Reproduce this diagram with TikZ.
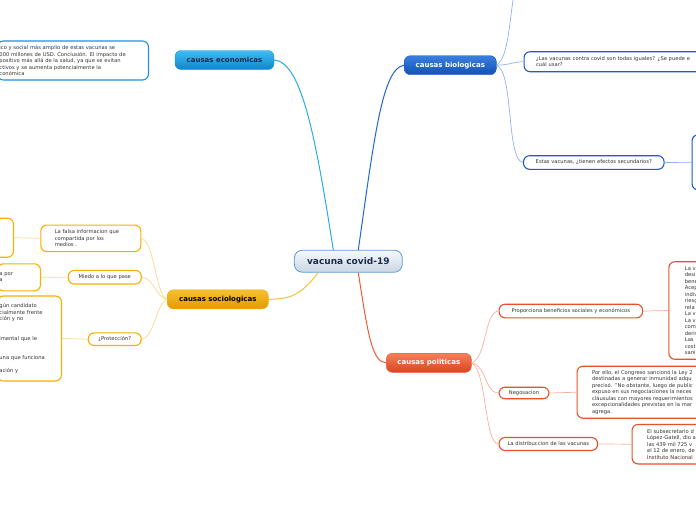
\documentclass[tikz,border=0pt]{standalone}
\usepackage{fontspec}
\setmainfont{DejaVu Sans}
\definecolor{econA}{HTML}{3DBDF2}
\definecolor{econB}{HTML}{0E86CC}
\definecolor{econL}{HTML}{2AAAE6}
\definecolor{econD}{HTML}{1E8FE4}
\definecolor{bioA}{HTML}{3A7FE0}
\definecolor{bioB}{HTML}{1450B4}
\definecolor{bioL}{HTML}{1F66D6}
\definecolor{bioS}{HTML}{8DB4EC}
\definecolor{bioD}{HTML}{1A5AD2}
\definecolor{socA}{HTML}{F8C030}
\definecolor{socB}{HTML}{E09A00}
\definecolor{socL}{HTML}{F8C13A}
\definecolor{socS}{HTML}{FCD98C}
\definecolor{socD}{HTML}{F5B000}
\definecolor{polA}{HTML}{F4805A}
\definecolor{polB}{HTML}{D8461E}
\definecolor{polL}{HTML}{EE5C36}
\definecolor{polS}{HTML}{F8B09C}
\definecolor{polD}{HTML}{E8502A}
\definecolor{cenA}{HTML}{F6F9FC}
\definecolor{cenB}{HTML}{C9D6E3}
\definecolor{cenD}{HTML}{5B9BD5}
\definecolor{cenT}{HTML}{1B2A50}
\definecolor{txt}{HTML}{333333}
\tikzset{
  topic/.style={rounded corners=6pt, minimum height=19pt, inner sep=0pt,
    font=\fontsize{7}{8}\selectfont\bfseries},
  leaf/.style={draw, line width=1.1pt, rounded corners=6pt, fill=white, inner ysep=0pt,
    font=\fontsize{5.2}{6.5}\selectfont, text=txt, align=left},
  conn/.style={line width=1pt},
  subconn/.style={line width=0.7pt}
}
\begin{document}
\begin{tikzpicture}[x=1pt,y=-1pt]
\useasboundingbox (0,0) rectangle (696,520);
\clip (0,0) rectangle (696,520);
\fill[white] (0,0) rectangle (696,520);

% central
\node[rounded corners=8pt, draw=cenD, line width=0.8pt, top color=cenA, bottom color=cenB,
  minimum width=108pt, minimum height=22pt, inner sep=0pt, text=cenT,
  font=\fontsize{9}{10}\selectfont\bfseries] (c) at (348.3,261.2) {vacuna covid-19};

% topics
\node[topic, top color=econA, bottom color=econB, draw=econD, line width=0.4pt, minimum width=99pt, text=cenT] (econ) at (224.5,60) {causas economicas};
\node[topic, top color=bioA, bottom color=bioB, draw=bioD, line width=0.4pt, minimum width=92pt, text=white] (bio) at (450.3,65.2) {causas biologicas};
\node[topic, top color=socA, bottom color=socB, draw=socD, line width=0.4pt, minimum width=101pt, text=black] (soc) at (217.8,299.3) {causas sociologicas};
\node[topic, top color=polA, bottom color=polB, draw=polD, line width=0.4pt, minimum width=85pt, text=white] (pol) at (428.8,362.8) {causas politicas};

% economic leaf
\node[leaf, draw=econD, anchor=east, text width=147pt, inner xsep=2pt, minimum height=39pt] (econt) at (149,60.5)
 {ico y social más amplio de estas vacunas se\\000 millones de USD. Conclusión. El impacto de\\positivo más allá de la salud, ya que se evitan\\ctivos y se aumenta potencialmente la\\conómica};

% biological leaves
\coordinate (bioup) at (513.5,-3);
\node[leaf, draw=bioD, anchor=west, text width=200pt, inner xsep=12pt, minimum height=20pt] (q1) at (523.5,61.7)
 {¿Las vacunas contra covid son todas iguales? ¿Se puede e\\cuál usar?};
\node[leaf, draw=bioD, minimum width=140.5pt, minimum height=13.6pt] (q2) at (593.8,162.5)
 {Estas vacunas, ¿tienen efectos secundarios?};
\node[leaf, draw=bioD, anchor=west, minimum width=80pt, minimum height=55pt] (bigbio) at (691.5,162.3) {};

% sociological leaves
\node[leaf, draw=socD, text width=72pt, inner xsep=14pt, minimum height=26.5pt] (falsa) at (90.8,238.3)
 {La falsa informacion que\\compartida por los\\medios .};
\node[leaf, draw=socD, anchor=east, minimum width=60pt, minimum height=39pt] (lb1) at (14,237.7) {};
\node[leaf, draw=socD, minimum width=73pt, minimum height=13.6pt] (miedo) at (104.8,277.2) {Miedo a lo que pase};
\node[leaf, draw=socD, anchor=east, text width=39pt, inner xsep=2pt, minimum height=27pt] (lb2) at (41,277.3)
 {a por\\a};
\node[leaf, draw=socD, minimum width=53pt, minimum height=12.6pt] (prot) at (114.7,339.2) {¿Protección?};
\node[leaf, draw=socD, anchor=east, text width=60pt, inner xsep=2pt, minimum height=85pt] (lb3) at (62,338.5)
 {gún candidato\\cialmente frente\\ción y no\\[13pt]imental que le\\[13pt]una que funciona\\[6.5pt]ación y};

% political leaves
\node[leaf, draw=polD, minimum width=143.5pt, minimum height=13.6pt] (prop) at (570.8,311) {Proporciona beneficios sociales y económicos};
\node[leaf, draw=polD, anchor=west, text width=60pt, inner xsep=16pt, minimum height=97.5pt] (bigpol) at (668.3,310.5)
 {La v\\desi\\bene\\Acep\\indiv\\riesg\\rela\\La v\\La v\\com\\deriv\\Las\\cost\\sani};
\node[leaf, draw=polD, minimum width=50pt, minimum height=11.5pt] (neg) at (524,393) {Negosacion};
\node[leaf, draw=polD, anchor=west, text width=140pt, inner xsep=15pt, minimum height=52pt] (negt) at (576.5,392.2)
 {Por ello, el Congreso sancionó la Ley 2\\destinadas a generar inmunidad adqu\\precisó. "No obstante, luego de public\\expuso en sus negociaciones la neces\\cláusulas con mayores requerimientos\\excepcionalidades previstas en la mar\\agrega.};
\node[leaf, draw=polD, minimum width=98.5pt, minimum height=13pt] (dist) at (548.3,444) {La distribuccion de las vacunas};
\node[leaf, draw=polD, anchor=west, text width=100pt, inner xsep=15pt, minimum height=39.5pt] (distt) at (631.5,444.2)
 {El subsecretario d\\López-Gatell, dio a\\las 439 mil 725 v\\el 12 de enero, de\\Instituto Nacional};

% main connectors
\draw[conn, econL] ([xshift=-15pt]c.north) .. controls (316,140) and (302,62) .. (econ.east);
\draw[conn, bioL] ([xshift=10pt]c.north) .. controls (374,140) and (382,68) .. (bio.west);
\draw[conn, socL] ([xshift=-30pt]c.south) .. controls (300,296) and (290,299) .. (soc.east);
\draw[conn, polL] ([xshift=10pt]c.south) .. controls (368,335) and (372,362) .. (pol.west);

% biological sub connectors
\draw[subconn, bioS] (bio.east) .. controls (508,58) and (509,25) .. (bioup);
\draw[subconn, bioS] (bio.east) .. controls (510,65) and (512,62) .. (q1.west);
\draw[subconn, bioS] (bio.east) .. controls (514,72) and (506,160) .. (q2.west);
\draw[subconn, bioS] (q2.east) -- (bigbio.west);

% sociological sub connectors
\draw[subconn, socS] (soc.west) .. controls (156,296) and (154,240) .. (falsa.east);
\draw[subconn, socS] (soc.west) .. controls (156,298) and (154,278) .. (miedo.east);
\draw[subconn, socS] (soc.west) .. controls (156,304) and (154,338) .. (prot.east);
\draw[subconn, socS] (falsa.west) -- (lb1.east);
\draw[subconn, socS] (miedo.west) -- (lb2.east);
\draw[subconn, socS] (prot.west) -- (lb3.east);

% political sub connectors
\draw[subconn, polS] (pol.east) .. controls (487,358) and (484,312) .. (prop.west);
\draw[subconn, polS] (pol.east) .. controls (487,366) and (484,392) .. (neg.west);
\draw[subconn, polS] (pol.east) .. controls (487,370) and (484,443) .. (dist.west);
\draw[subconn, polS] (prop.east) -- (bigpol.west);
\draw[subconn, polS] (neg.east) -- (negt.west);
\draw[subconn, polS] (dist.east) -- (distt.west);
\end{tikzpicture}
\end{document}
